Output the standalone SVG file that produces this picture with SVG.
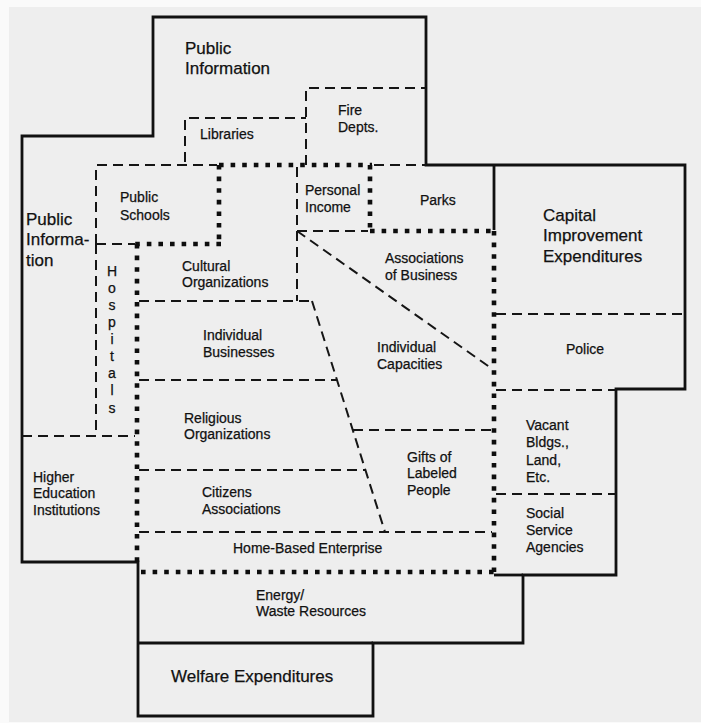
<svg xmlns="http://www.w3.org/2000/svg" width="701" height="723" viewBox="0 0 701 723">
  <style>
    .solid { fill: none; stroke: #111; stroke-width: 2.8; stroke-linejoin: miter; }
    .dash { fill: none; stroke: #151515; stroke-width: 2; stroke-dasharray: 10 6; }
    .dot { fill: none; stroke: #0d0d0d; stroke-width: 4.6; stroke-dasharray: 4.6 7; stroke-linecap: butt; }
    text { font-family: "Liberation Sans", Arial, Helvetica, sans-serif; fill: #111; stroke: #111; stroke-width: 0.25; }
    .sm { font-size: 14px; }
    .lg { font-size: 17px; }
  </style>

  <!-- page -->
  <rect x="0" y="0" width="701" height="723" fill="#fafafa"/>
  <rect x="9" y="7" width="692" height="715" fill="#eeeeee"/>

  <g id="connectors">
    <!-- outer boundary -->
    <path class="solid" d="M153,17 H426 V165 H685 V389 H616 V575 H523 V643 H373 V716 H138 V562 H22 V136 H153 Z"/>
    <!-- inner solid dividers -->
    <path class="solid" d="M494,165 V230"/>
    <path class="solid" d="M138,643 H373"/>
    <path class="solid" d="M494,575 H523"/>

    <!-- dotted core region -->
    <path class="dot" d="M219,165 H372"/>
    <path class="dot" d="M370,165 V233"/>
    <path class="dot" d="M370,231 H496"/>
    <path class="dot" d="M494,231 V574"/>
    <path class="dot" d="M219,165 V246"/>
    <path class="dot" d="M221,244 H135"/>
    <path class="dot" d="M137,244 V564"/>
    <path class="dot" d="M141,572 H496"/>

    <!-- dashed subdivisions -->
    <path class="dash" d="M185,162 V118 H306"/>
    <path class="dash" d="M306,165 V88 H426"/>
    <path class="dash" d="M374,165 H426"/>
    <path class="dash" d="M96,244 V165 H217"/>
    <path class="dash" d="M96,244 H135"/>
    <path class="dash" d="M96,244 V436"/>
    <path class="dash" d="M22,436 H135"/>
    <path class="dash" d="M297,167 V301"/>
    <path class="dash" d="M297,231 H368"/>
    <path class="dash" d="M139,301 H312"/>
    <path class="dash" d="M312,301 L385,532"/>
    <path class="dash" d="M139,380 H337"/>
    <path class="dash" d="M139,470 H365"/>
    <path class="dash" d="M139,532 H492"/>
    <path class="dash" d="M297,231 L491,368"/>
    <path class="dash" d="M353,430 H492"/>
    <path class="dash" d="M496,314 H685"/>
    <path class="dash" d="M496,390 H616"/>
    <path class="dash" d="M496,494 H616"/>
  </g>

  <g id="public-information-top">
    <text class="lg" x="185" y="54">Public</text>
    <text class="lg" x="185" y="74">Information</text>
  </g>
  <g id="libraries">
    <text class="sm" x="200" y="139">Libraries</text>
  </g>
  <g id="fire-depts">
    <text class="sm" x="338" y="115">Fire</text>
    <text class="sm" x="338" y="132">Depts.</text>
  </g>
  <g id="public-schools">
    <text class="sm" x="120" y="202">Public</text>
    <text class="sm" x="120" y="220">Schools</text>
  </g>
  <g id="personal-income">
    <text class="sm" x="305" y="195">Personal</text>
    <text class="sm" x="305" y="212">Income</text>
  </g>
  <g id="parks">
    <text class="sm" x="420" y="205">Parks</text>
  </g>
  <g id="capital-improvement">
    <text class="lg" x="543" y="221">Capital</text>
    <text class="lg" x="543" y="241">Improvement</text>
    <text class="lg" x="543" y="262">Expenditures</text>
  </g>
  <g id="public-information-left">
    <text class="lg" x="26" y="225">Public</text>
    <text class="lg" x="26" y="245">Informa-</text>
    <text class="lg" x="26" y="266">tion</text>
  </g>
  <g id="hospitals">
    <text class="sm" x="112" y="276" text-anchor="middle">H</text>
    <text class="sm" x="112" y="293" text-anchor="middle">o</text>
    <text class="sm" x="112" y="310" text-anchor="middle">s</text>
    <text class="sm" x="112" y="327" text-anchor="middle">p</text>
    <text class="sm" x="112" y="344" text-anchor="middle">i</text>
    <text class="sm" x="112" y="361" text-anchor="middle">t</text>
    <text class="sm" x="112" y="378" text-anchor="middle">a</text>
    <text class="sm" x="112" y="395" text-anchor="middle">l</text>
    <text class="sm" x="112" y="413" text-anchor="middle">s</text>
  </g>
  <g id="cultural-organizations">
    <text class="sm" x="182" y="271">Cultural</text>
    <text class="sm" x="182" y="287">Organizations</text>
  </g>
  <g id="associations-of-business">
    <text class="sm" x="385" y="263">Associations</text>
    <text class="sm" x="385" y="280">of Business</text>
  </g>
  <g id="individual-businesses">
    <text class="sm" x="203" y="340">Individual</text>
    <text class="sm" x="203" y="357">Businesses</text>
  </g>
  <g id="individual-capacities">
    <text class="sm" x="377" y="352">Individual</text>
    <text class="sm" x="377" y="369">Capacities</text>
  </g>
  <g id="police">
    <text class="sm" x="566" y="354">Police</text>
  </g>
  <g id="religious-organizations">
    <text class="sm" x="184" y="423">Religious</text>
    <text class="sm" x="184" y="439">Organizations</text>
  </g>
  <g id="gifts-of-labeled-people">
    <text class="sm" x="407" y="462">Gifts of</text>
    <text class="sm" x="407" y="478">Labeled</text>
    <text class="sm" x="407" y="495">People</text>
  </g>
  <g id="vacant-buildings">
    <text class="sm" x="526" y="430">Vacant</text>
    <text class="sm" x="526" y="447">Bldgs.,</text>
    <text class="sm" x="526" y="465">Land,</text>
    <text class="sm" x="526" y="482">Etc.</text>
  </g>
  <g id="social-service-agencies">
    <text class="sm" x="526" y="518">Social</text>
    <text class="sm" x="526" y="535">Service</text>
    <text class="sm" x="526" y="552">Agencies</text>
  </g>
  <g id="higher-education">
    <text class="sm" x="33" y="482">Higher</text>
    <text class="sm" x="33" y="498">Education</text>
    <text class="sm" x="33" y="515">Institutions</text>
  </g>
  <g id="citizens-associations">
    <text class="sm" x="202" y="497">Citizens</text>
    <text class="sm" x="202" y="514">Associations</text>
  </g>
  <g id="home-based-enterprise">
    <text class="sm" x="233" y="553">Home-Based Enterprise</text>
  </g>
  <g id="energy-waste">
    <text class="sm" x="256" y="600">Energy/</text>
    <text class="sm" x="256" y="616">Waste Resources</text>
  </g>
  <g id="welfare-expenditures">
    <text class="lg" x="171" y="682">Welfare Expenditures</text>
  </g>
</svg>
